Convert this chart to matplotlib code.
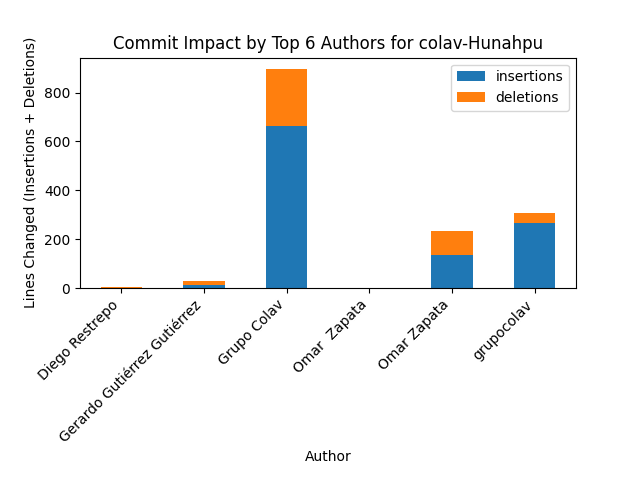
import pandas as pd
import matplotlib
matplotlib.use('Agg')
import matplotlib.pyplot as plt

authors = ['Diego Restrepo', 'Gerardo Gutiérrez Gutiérrez', 'Grupo Colav',
           'Omar  Zapata', 'Omar Zapata', 'grupocolav']
insertions = [0, 12, 664, 0, 135, 266]
deletions = [4, 16, 234, 1, 100, 42]

df = pd.DataFrame({'insertions': insertions, 'deletions': deletions}, index=authors)
df.index.name = 'Author'

ax = df.plot(kind='bar', stacked=True, figsize=(6.4, 4.8))
ax.set_title('Commit Impact by Top 6 Authors for colav-Hunahpu')
ax.set_ylabel('Lines Changed (Insertions + Deletions)')
ax.set_xlabel('Author')
plt.xticks(rotation=45, ha='right')
plt.subplots_adjust(bottom=0.4)
plt.savefig('out.png', dpi=100)
